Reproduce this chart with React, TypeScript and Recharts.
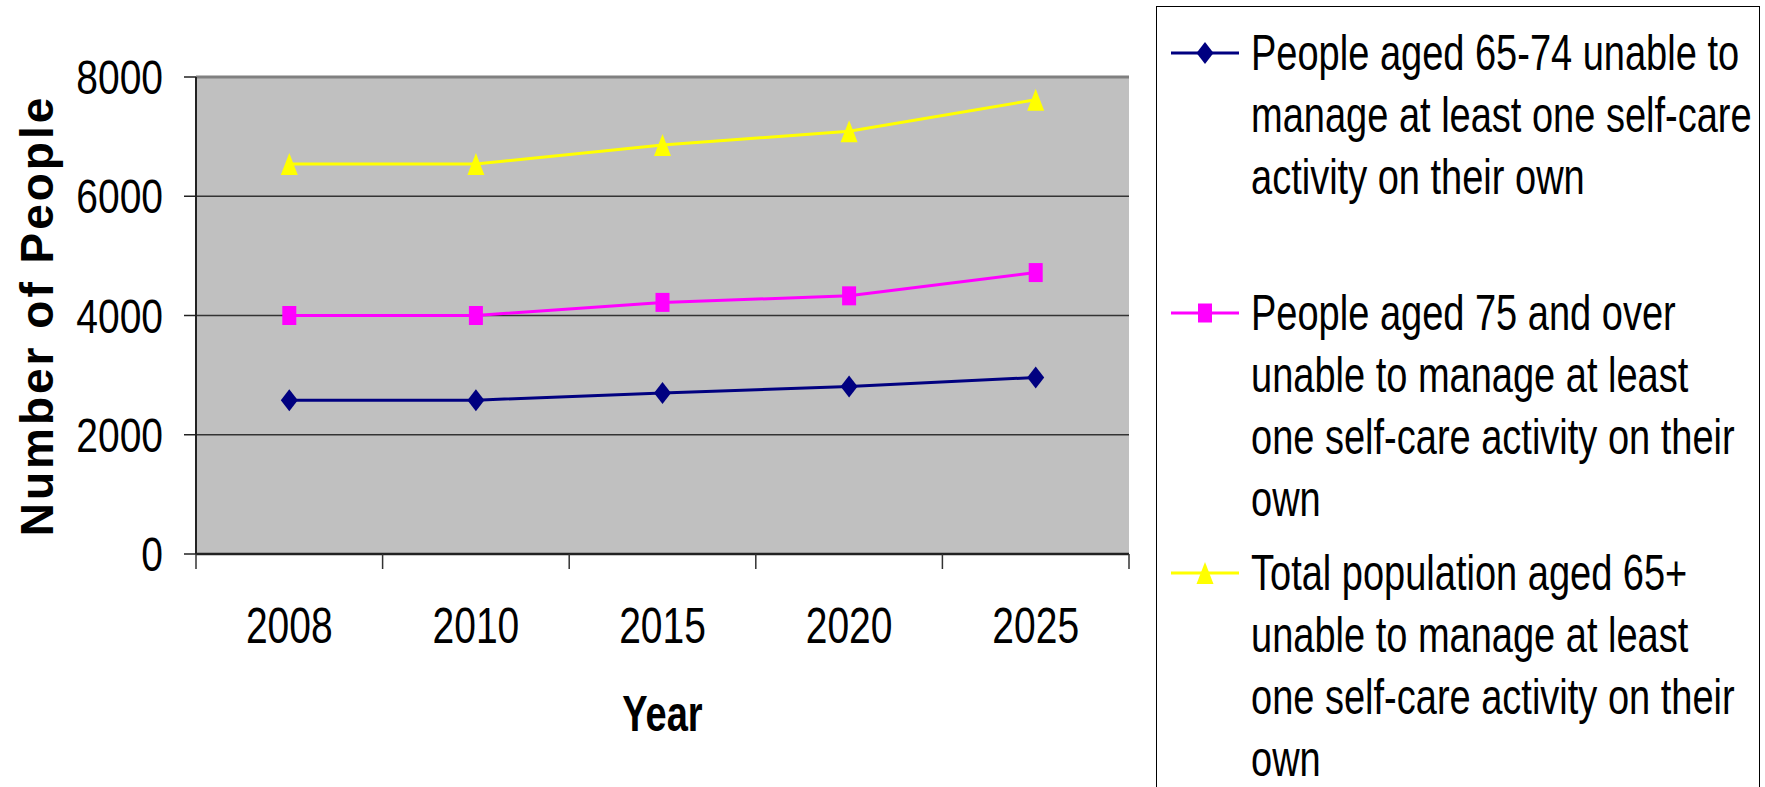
import React from "react"
import { LineChart, Line, XAxis, YAxis, CartesianGrid, Legend, ReferenceLine } from "recharts"

const years = ["2008", "2010", "2015", "2020", "2025"]
const aged65to74 = [2580, 2580, 2700, 2810, 2960]
const aged75plus = [4000, 4000, 4220, 4330, 4720]
const total65plus = [6540, 6540, 6860, 7090, 7620]
const yTicks = [0, 2000, 4000, 6000, 8000]
const seriesNames = [
  "People aged 65-74 unable to\nmanage at least one self-care\nactivity on their own",
  "People aged 75 and over\nunable to manage at least\none self-care activity on their\nown",
  "Total population aged 65+\nunable to manage at least\none self-care activity on their\nown",
]
const colors = ["#000080", "#FF00FF", "#FFFF00"]
const shapes = ["diamond", "square", "triangle"]

const data = years.map((year, i) => ({
  year,
  aged65to74: aged65to74[i],
  aged75plus: aged75plus[i],
  total65plus: total65plus[i],
}))

const FONT = "'Liberation Sans', Arial, sans-serif"
const W = 1765
const H = 787
const PLOT_LEFT = 196
const PLOT_RIGHT = 1129
const PLOT_TOP = 77
const PLOT_BOTTOM = 554
const BAND = (PLOT_RIGHT - PLOT_LEFT) / years.length

function markerPath(shape: string, cx: number, cy: number) {
  if (shape === "diamond") return `M${cx},${cy - 11} L${cx + 8.5},${cy} L${cx},${cy + 11} L${cx - 8.5},${cy} Z`
  if (shape === "square") return `M${cx - 7},${cy - 9.5} h14 v19 h-14 Z`
  return `M${cx},${cy - 11} L${cx + 8.5},${cy + 11} L${cx - 8.5},${cy + 11} Z`
}

const makeDot = (shape: string, color: string) => (props: any) => {
  const { cx, cy, index } = props
  if (cx == null || cy == null) return <g key={`${shape}-${index}`} />
  return <path key={`${shape}-${index}`} d={markerPath(shape, cx, cy)} fill={color} stroke="none" />
}

// category boundaries: the tick x is the band start, label sits at the band centre
const XTick = (props: any) => {
  const { x, y, payload, index } = props
  const left = PLOT_LEFT + index * BAND
  const mid = left + BAND / 2
  return (
    <g>
      <line x1={left} x2={left} y1={y} y2={y + 15} stroke="#333" strokeWidth={1.5} />
      {index === years.length - 1 && (
        <line x1={left + BAND} x2={left + BAND} y1={y} y2={y + 15} stroke="#333" strokeWidth={1.5} />
      )}
      <text
        transform={`translate(${mid},${y + 89}) scale(1,1.3)`}
        textAnchor="middle"
        fontSize={39}
        fontFamily={FONT}
        fill="#000"
        data-x={x}
      >
        {payload.value}
      </text>
    </g>
  )
}

const YTick = (props: any) => {
  const { x, y, payload } = props
  return (
    <text
      transform={`translate(${x},${y + 17}) scale(1,1.25)`}
      textAnchor="end"
      fontSize={39}
      fontFamily={FONT}
      fill="#000"
    >
      {payload.value}
    </text>
  )
}

const YLabel = (props: any) => {
  const { viewBox } = props
  const cy = viewBox.y + viewBox.height / 2
  return (
    <text
      transform={`translate(53,${cy}) rotate(-90)`}
      textAnchor="middle"
      fontSize={46}
      fontWeight="bold"
      letterSpacing={3}
      fontFamily={FONT}
      fill="#000"
    >
      Number of People
    </text>
  )
}

const XLabel = (props: any) => {
  const { viewBox } = props
  return (
    <text
      transform={`translate(${viewBox.x + viewBox.width / 2},${viewBox.y + 177}) scale(1,1.3)`}
      textAnchor="middle"
      fontSize={38}
      fontWeight="bold"
      fontFamily={FONT}
      fill="#000"
    >
      Year
    </text>
  )
}

// first-line centres of each legend entry, relative to the box top
const entryTops = [46, 306, 566]
const LINE_H = 62

const LegendBox = (props: any) => {
  const { payload = [] } = props
  return (
    <div
      style={{
        position: "relative",
        width: 604,
        height: 800,
        border: "1.5px solid #000",
        boxSizing: "border-box",
        background: "#fff",
        fontFamily: FONT,
      }}
    >
      {payload.map((item: any, i: number) => {
        const lines = String(item.value).split("\n")
        const c = entryTops[i]
        return (
          <div key={i}>
            <svg style={{ position: "absolute", left: 12, top: c - 14 }} width={72} height={28}>
              <line x1={2} x2={70} y1={14} y2={14} stroke={colors[i]} strokeWidth={3} />
              <path d={markerPath(shapes[i], 36, 14)} fill={colors[i]} />
            </svg>
            {lines.map((ln, j) => (
              <div
                key={j}
                style={{
                  position: "absolute",
                  left: 94,
                  top: c - LINE_H / 2 + j * LINE_H,
                  height: LINE_H,
                  lineHeight: `${LINE_H}px`,
                  fontSize: 38,
                  whiteSpace: "nowrap",
                  color: "#000",
                  transform: "scaleY(1.3)",
                  transformOrigin: "center",
                }}
              >
                {ln}
              </div>
            ))}
          </div>
        )
      })}
    </div>
  )
}

export default function App() {
  return (
    <div style={{ position: "absolute", left: 0, top: 0, width: W, height: H, overflow: "hidden", background: "#fff" }}>
      <LineChart
        width={W}
        height={H}
        data={data}
        margin={{ top: PLOT_TOP, right: W - PLOT_RIGHT, left: 0, bottom: 0 }}
      >
        <CartesianGrid vertical={false} stroke="#333" strokeWidth={1.5} fill="#C0C0C0" fillOpacity={1} />
        <XAxis
          dataKey="year"
          scale="band"
          height={H - PLOT_BOTTOM}
          interval={0}
          tickLine={false}
          tickSize={0}
          tickMargin={0}
          axisLine={{ stroke: "#222", strokeWidth: 2.5 }}
          tick={<XTick />}
          label={<XLabel />}
        />
        <YAxis
          width={PLOT_LEFT}
          domain={[0, 8000]}
          ticks={yTicks}
          interval={0}
          tickSize={12}
          tickMargin={21}
          tickLine={{ stroke: "#222", strokeWidth: 1.5 }}
          axisLine={{ stroke: "#222", strokeWidth: 2 }}
          tick={<YTick />}
          label={<YLabel />}
        />
        <YAxis
          yAxisId="r"
          orientation="right"
          width={0}
          domain={[0, 8000]}
          tick={false}
          tickLine={false}
          axisLine={{ stroke: "#808080", strokeWidth: 3 }}
        />
        <ReferenceLine y={8000} stroke="#808080" strokeWidth={3} />
        <Legend
          layout="horizontal"
          verticalAlign="middle"
          align="center"
          wrapperStyle={{ position: "absolute", left: 1156, top: 6, width: 604, height: 800, margin: 0 }}
          content={<LegendBox />}
        />
        <Line
          dataKey="aged65to74"
          name={seriesNames[0]}
          stroke={colors[0]}
          strokeWidth={3}
          dot={makeDot(shapes[0], colors[0])}
          activeDot={false}
          isAnimationActive={false}
        />
        <Line
          dataKey="aged75plus"
          name={seriesNames[1]}
          stroke={colors[1]}
          strokeWidth={3}
          dot={makeDot(shapes[1], colors[1])}
          activeDot={false}
          isAnimationActive={false}
        />
        <Line
          dataKey="total65plus"
          name={seriesNames[2]}
          stroke={colors[2]}
          strokeWidth={3}
          dot={makeDot(shapes[2], colors[2])}
          activeDot={false}
          isAnimationActive={false}
        />
      </LineChart>
    </div>
  )
}
